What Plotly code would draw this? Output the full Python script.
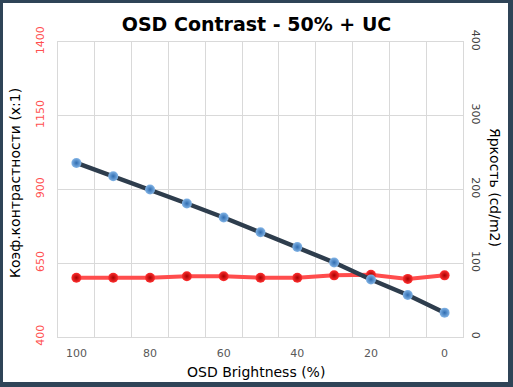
import plotly.graph_objects as go

brightness = [100, 90, 80, 70, 60, 50, 40, 30, 20, 10, 0]
contrast = [601, 601, 601, 606, 606, 601, 601, 609, 611, 597, 609]
luminance = [236, 218, 200, 181, 162, 142, 122, 101, 78, 57, 33]

x_ticks = [100, 80, 60, 40, 20, 0]
y1_ticks = [400, 650, 900, 1150, 1400]
y2_ticks = [0, 100, 200, 300, 400]

step = 10
grid_x = [b + step / 2 for b in brightness] + [brightness[-1] - step / 2]

W, H = 513, 387
L, R, T, B = 58, 50, 42, 50
pw, ph = W - L - R, H - T - B

fig = go.Figure()
fig.add_trace(go.Scatter(
    x=brightness, y=contrast, mode="lines+markers", yaxis="y",
    line=dict(color="#ff4d4d", width=4),
    marker=dict(size=10, color="#ff3030", gradient=dict(type="radial", color="#a80000"),
                line=dict(width=0)),
    showlegend=False))
fig.add_trace(go.Scatter(
    x=brightness, y=luminance, mode="lines+markers", yaxis="y2",
    line=dict(color="#2e3d4d", width=4.5),
    marker=dict(size=10, color="#82b4e6", gradient=dict(type="radial", color="#2f6cb0"),
                line=dict(width=0)),
    showlegend=False))

grid = "#d9d9d9"
fig.update_layout(
    width=W, height=H,
    margin=dict(l=L, r=R, t=T, b=B),
    paper_bgcolor="#2f4457",
    plot_bgcolor="white",
    font=dict(family="DejaVu Sans", color="#404040"),
    title=dict(text="<b>OSD Contrast - 50% + UC</b>", x=0.5, xanchor="center",
               y=1 - 24 / H, yanchor="middle",
               font=dict(family="DejaVu Sans", size=19, color="black")),
    xaxis=dict(range=[105, -5], tickvals=x_ticks, showgrid=False, zeroline=False,
               showline=True, linecolor=grid, mirror=True, ticklabelstandoff=6,
               tickfont=dict(size=11, color="#595959"),
               minor=dict(tickvals=grid_x, showgrid=True, gridcolor=grid, gridwidth=1)),
    yaxis=dict(range=[400, 1400], tickvals=y1_ticks, showgrid=True, gridcolor=grid,
               zeroline=False, showline=True, linecolor=grid, mirror=True,
               ticklabelstandoff=9,
               tickangle=-90, tickfont=dict(size=11, color="#ff5050")),
    yaxis2=dict(range=[0, 400], tickvals=y2_ticks, overlaying="y", side="right",
                showgrid=False, zeroline=False, tickangle=90, ticklabelstandoff=6,
                tickfont=dict(size=11, color="#404040")),
    shapes=[dict(type="rect", xref="paper", yref="paper", layer="below",
                 x0=(3 - L) / pw, x1=(508 - L) / pw,
                 y0=(H - B - 382) / ph, y1=(H - B - 3) / ph,
                 fillcolor="white", line=dict(width=0))],
    annotations=[
        dict(text="Коэф.контрастности (x:1)", xref="paper", yref="paper",
             x=(15 - L) / pw, y=(H - B - 183) / ph, textangle=-90, showarrow=False,
             xanchor="center", yanchor="middle", font=dict(size=14, color="black")),
        dict(text="Яркость (cd/m2)", xref="paper", yref="paper",
             x=(495 - L) / pw, y=(H - B - 187) / ph, textangle=90, showarrow=False,
             xanchor="center", yanchor="middle", font=dict(size=14, color="black")),
        dict(text="OSD Brightness (%)", xref="paper", yref="paper",
             x=(256 - L) / pw, y=(H - B - 372) / ph, showarrow=False,
             xanchor="center", yanchor="middle", font=dict(size=14, color="black")),
    ],
)

fig.write_html("out.html", config={"displayModeBar": False},
               post_script="document.body.style.margin='0';")
